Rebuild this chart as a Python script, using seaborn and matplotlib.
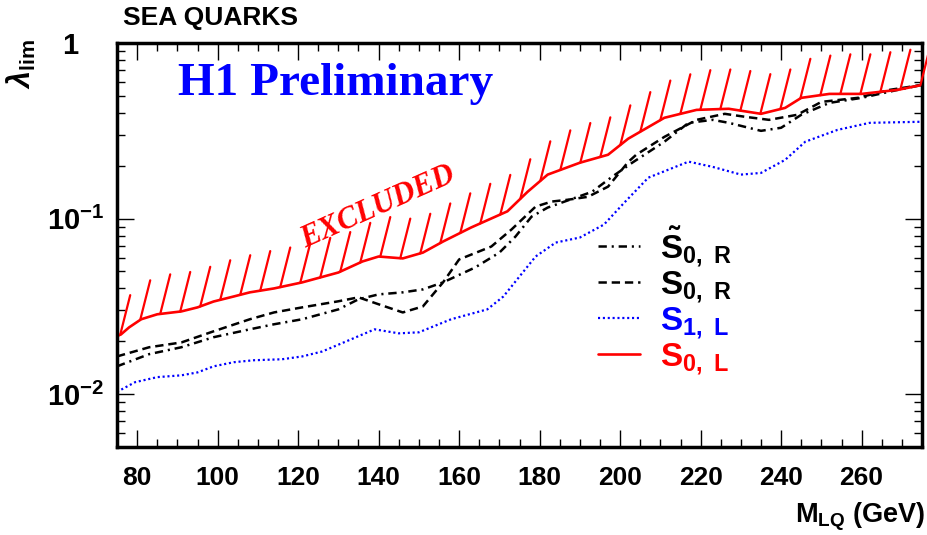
import numpy as np
import pandas as pd
import matplotlib
matplotlib.use("Agg")
import matplotlib.pyplot as plt
import matplotlib.transforms as mtransforms
from matplotlib.ticker import MultipleLocator, FixedLocator, FixedFormatter, LogLocator, NullFormatter
import seaborn as sns

# --- limits on the Yukawa coupling vs leptoquark mass (sea quarks) ---
s0r_tilde_mass = [75, 83, 91, 99, 108, 114, 121, 130, 135, 140, 146, 151, 156, 164, 170, 174,
                  178, 182, 193, 198, 203, 211, 217, 223, 227, 235, 240, 245, 252, 260, 269, 275]
s0r_tilde_lim = [0.0144, 0.0169, 0.0185, 0.0211, 0.0234, 0.0250, 0.0267, 0.0304, 0.0347, 0.0370,
                 0.0380, 0.0395, 0.0433, 0.0527, 0.0640, 0.0790, 0.1026, 0.1155, 0.142, 0.173,
                 0.208, 0.274, 0.351, 0.365, 0.351, 0.316, 0.329, 0.390, 0.456, 0.487, 0.541, 0.577]

s0r_mass = [75, 83, 91, 99, 108, 114, 121, 130, 135, 140, 146, 151, 156, 160, 168, 173, 179,
            183, 187, 192, 197, 202, 204, 211, 219, 226, 231, 237, 244, 250, 259, 267, 275]
s0r_lim = [0.0164, 0.0185, 0.0197, 0.0228, 0.0267, 0.0292, 0.0312, 0.0338, 0.0356, 0.0325,
           0.0292, 0.0316, 0.0433, 0.0585, 0.0693, 0.0866, 0.117, 0.125, 0.128, 0.133, 0.152,
           0.210, 0.231, 0.292, 0.365, 0.395, 0.380, 0.365, 0.390, 0.462, 0.487, 0.541, 0.577]

s1l_mass = [75, 79.5, 85, 91, 95, 99, 104, 109, 116, 121, 126, 132, 139, 145, 150, 158, 167,
            171, 179, 184, 190, 196, 201, 207, 217, 223, 230, 235, 241, 246, 254, 262, 275]
s1l_lim = [0.0103, 0.0117, 0.0125, 0.0128, 0.0133, 0.0144, 0.0152, 0.0156, 0.0158, 0.0164,
           0.0175, 0.0200, 0.0234, 0.0222, 0.0225, 0.0267, 0.0304, 0.0360, 0.0608, 0.0730,
           0.0780, 0.0925, 0.123, 0.171, 0.211, 0.197, 0.178, 0.182, 0.216, 0.274, 0.320,
           0.351, 0.356]

s0l_mass = [75, 76, 78, 81, 85, 91, 95, 99, 104, 108, 114, 121, 130, 136, 140, 146, 151, 156,
            163, 172, 177, 182, 190, 197, 202, 211, 219, 227, 235, 241, 245, 252, 260, 269, 275]
s0l_lim = [0.0214, 0.0219, 0.0240, 0.0267, 0.0285, 0.0296, 0.0312, 0.0337, 0.0360, 0.0380,
           0.0400, 0.0433, 0.0493, 0.0570, 0.0608, 0.0593, 0.0640, 0.0740, 0.0890, 0.110,
           0.142, 0.178, 0.208, 0.231, 0.285, 0.375, 0.416, 0.422, 0.395, 0.427, 0.487,
           0.513, 0.513, 0.541, 0.577]

legend_labels = [r"$\mathbf{\tilde{S}_{0,\ R}}$", r"$\mathbf{S_{0,\ R}}$",
                 r"$\mathbf{S_{1,\ L}}$", r"$\mathbf{S_{0,\ L}}$"]
x_ticks = [80, 100, 120, 140, 160, 180, 200, 220, 240, 260]
y_ticks = [0.01, 0.1, 1]
y_tick_labels = [r"$\mathbf{10^{-2}}$", r"$\mathbf{10^{-1}}$", r"$\mathbf{1}$"]

RED = "#ff0000"
BLUE = "#0000ff"

sns.set_theme(style="ticks")
plt.rcParams["font.family"] = ["Liberation Sans", "DejaVu Sans"]
plt.rcParams["font.weight"] = "bold"
plt.rcParams["mathtext.fontset"] = "custom"
plt.rcParams["mathtext.rm"] = "Liberation Sans"
plt.rcParams["mathtext.bf"] = "Liberation Sans:bold"
plt.rcParams["mathtext.it"] = "Liberation Sans:italic"
plt.rcParams["lines.scale_dashes"] = False
for key in ["text.color", "axes.labelcolor", "xtick.color", "ytick.color",
            "xtick.labelcolor", "ytick.labelcolor", "axes.edgecolor"]:
    plt.rcParams[key] = "black"

fig = plt.figure(figsize=(9.27, 5.35), dpi=100)
ax = fig.add_axes([117 / 927, 1 - 447 / 535, (922 - 117) / 927, (447 - 43) / 535])

series = [
    (s0r_tilde_mass, s0r_tilde_lim, "black", 1.8, (0, (6, 3.5, 1.5, 3.5))),
    (s0r_mass, s0r_lim, "black", 1.8, (0, (6, 3.5))),
    (s1l_mass, s1l_lim, BLUE, 1.6, (0, (1.5, 2.0))),
    (s0l_mass, s0l_lim, RED, 1.9, "-"),
]
handles = []
for mass, lim, col, lw, ls in series:
    df = pd.DataFrame({"mass": mass, "lim": lim})
    sns.lineplot(data=df, x="mass", y="lim", ax=ax, color=col, linewidth=lw,
                 linestyle=ls, legend=False, estimator=None)
    handles.append(ax.lines[-1])

ax.set_yscale("log")
ax.set_xlim(75, 275)
ax.set_ylim(0.005, 1)

# exclusion hatching above the S0,L limit
hatch_mass = np.arange(75.8, 275, 4.97)
hatch_lim = 10 ** np.interp(hatch_mass, s0l_mass, np.log10(s0l_lim))
for m, l in zip(hatch_mass, hatch_lim):
    ax.annotate("", xy=(m, l), xytext=(7.2, 28.5), textcoords="offset points",
                arrowprops=dict(arrowstyle="-", color=RED, lw=1.6,
                                shrinkA=0, shrinkB=0))

# axes styling
ax.set_xlabel("")
ax.set_ylabel("")
ax.xaxis.set_major_locator(FixedLocator(x_ticks))
ax.xaxis.set_minor_locator(MultipleLocator(5))
ax.yaxis.set_major_locator(FixedLocator(y_ticks))
ax.yaxis.set_major_formatter(FixedFormatter(y_tick_labels))
ax.yaxis.set_minor_locator(LogLocator(base=10, subs=np.arange(2, 10)))
ax.yaxis.set_minor_formatter(NullFormatter())
ax.tick_params(which="both", direction="in", top=True, right=True, color="black")
ax.tick_params(which="major", length=12, width=1.0)
ax.tick_params(which="minor", length=6, width=1.0)
ax.tick_params(axis="x", which="major", labelsize=19, pad=14)
ax.tick_params(axis="y", which="major", labelsize=21, pad=9)
for lab in ax.get_xticklabels():
    lab.set_fontweight("bold")
for sp in ax.spines.values():
    sp.set_linewidth(2.5)
    sp.set_color("black")

fig.canvas.draw()
ylabs = ax.get_yticklabels()
one = ylabs[2]
one.set_transform(one.get_transform() +
                  mtransforms.ScaledTranslation(-0.25, 0.0, fig.dpi_scale_trans))

# texts
fig.text(123 / 927, 1 - 18 / 535, "SEA QUARKS", fontsize=19, fontweight="bold",
         ha="left", va="center")
fig.text(21 / 927, 1 - 64 / 535, r"$\lambda_{\mathbf{lim}}$", fontsize=22,
         rotation=90, ha="center", va="center")
fig.text(925 / 927, 1 - 517 / 535, r"$\mathbf{M_{LQ}}$ (GeV)", fontsize=19.5,
         fontweight="bold", ha="right", va="center")
ax.text((178 - 117) / 805, 1 - (84 - 43) / 404, "H1 Preliminary", transform=ax.transAxes,
        family=["Liberation Serif"], fontsize=34, fontweight="bold", color=BLUE,
        ha="left", va="center")
ax.text((378 - 117) / 805, 1 - (207 - 43) / 404, "EXCLUDED", transform=ax.transAxes,
        family=["Liberation Serif"], fontsize=22, fontweight="bold", style="italic",
        color=RED, rotation=24, ha="center", va="center", rotation_mode="anchor")

leg = ax.legend(handles, legend_labels, loc="upper left",
                bbox_to_anchor=(598 / 927, 1 - 224 / 535), bbox_transform=fig.transFigure,
                frameon=False, fontsize=24, handlelength=1.25, handletextpad=0.6,
                labelspacing=0.0, borderpad=0, borderaxespad=0)
for txt, col in zip(leg.get_texts(), ["black", "black", BLUE, RED]):
    txt.set_color(col)

fig.savefig("out.png", dpi=100)
